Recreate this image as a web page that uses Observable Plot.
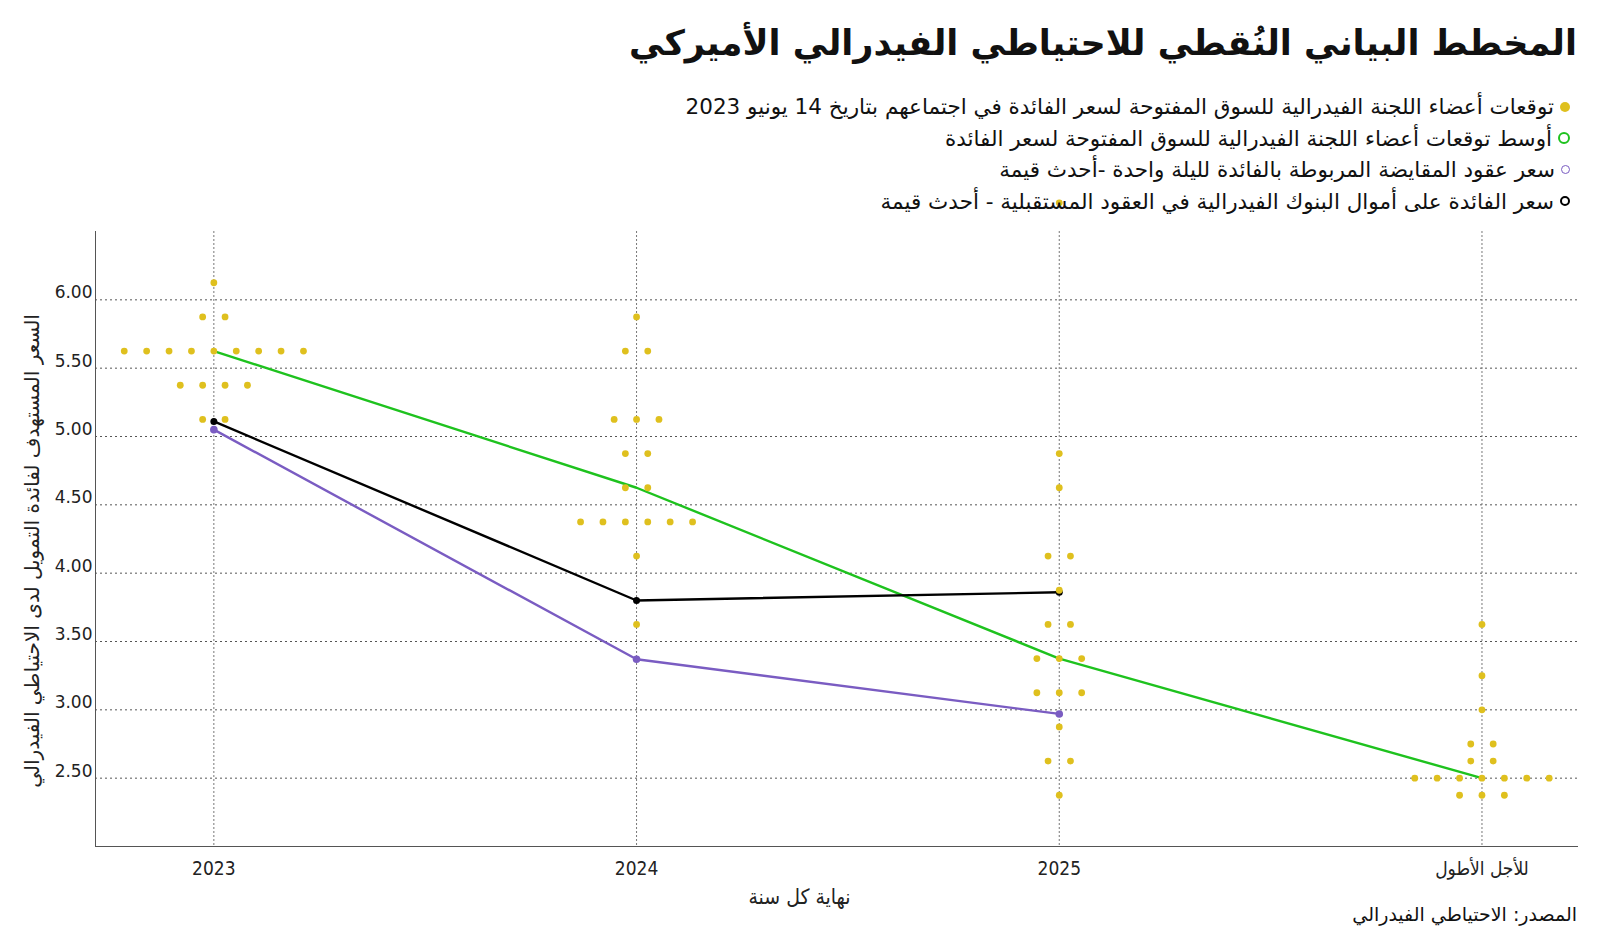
<!DOCTYPE html>
<html><head><meta charset="utf-8">
<script src="https://cdn.jsdelivr.net/npm/d3@7"></script>
<script src="https://cdn.jsdelivr.net/npm/@observablehq/plot@0.6"></script>
<style>
body{margin:0;background:#fff;font-family:"DejaVu Sans",sans-serif;color:#111;}
#wrap{position:relative;width:1600px;height:943px;overflow:hidden;}
#title{position:absolute;right:23px;top:18px;font-size:35px;font-weight:bold;direction:rtl;white-space:nowrap;line-height:50px;}
#legend{position:absolute;right:30px;top:91px;direction:rtl;z-index:2;}
.row{display:flex;align-items:center;height:31.5px;font-size:21.5px;white-space:nowrap;}
.sym{width:10px;height:10px;border-radius:50%;margin-left:6px;box-sizing:border-box;flex:none;}
#chart{position:absolute;left:0;top:220px;z-index:1;}
#source{position:absolute;right:23px;top:901px;font-size:19px;direction:rtl;white-space:nowrap;line-height:26px;}
</style></head>
<body>
<div id="wrap">
  <div id="title">المخطط البياني النُقطي للاحتياطي الفيدرالي الأميركي</div>
  <div id="legend"></div>
  <div id="chart"></div>
  <div id="source">المصدر: الاحتياطي الفيدرالي</div>
</div>
<script>
// ---- data ----
const categories = ["2023", "2024", "2025", "للأجل الأطول"];
const dots2023 = [6.125, 5.875, 5.875, 5.625, 5.625, 5.625, 5.625, 5.625, 5.625, 5.625, 5.625, 5.625, 5.375, 5.375, 5.375, 5.375, 5.125, 5.125];
const dots2024 = [5.875, 5.625, 5.625, 5.125, 5.125, 5.125, 4.875, 4.875, 4.625, 4.625, 4.375, 4.375, 4.375, 4.375, 4.375, 4.375, 4.125, 3.625];
const dots2025 = [6.71, 4.875, 4.625, 4.125, 4.125, 3.875, 3.625, 3.625, 3.375, 3.375, 3.375, 3.125, 3.125, 3.125, 2.875, 2.625, 2.625, 2.375];
const dotsLonger = [3.625, 3.25, 3.0, 2.75, 2.75, 2.625, 2.625, 2.5, 2.5, 2.5, 2.5, 2.5, 2.5, 2.5, 2.375, 2.375, 2.375];
const medianValues = [5.625, 4.625, 3.375, 2.5];
const oisValues = [5.05, 3.37, 2.97];
const futuresValues = [5.11, 3.80, 3.86];
const yTicks = [2.5, 3.0, 3.5, 4.0, 4.5, 5.0, 5.5, 6.0];
const legendLabels = [
  "توقعات أعضاء اللجنة الفيدرالية للسوق المفتوحة لسعر الفائدة في اجتماعهم بتاريخ 14 يونيو 2023",
  "أوسط توقعات أعضاء اللجنة الفيدرالية للسوق المفتوحة لسعر الفائدة",
  "سعر عقود المقايضة المربوطة بالفائدة لليلة واحدة -أحدث قيمة",
  "سعر الفائدة على أموال البنوك الفيدرالية في العقود المستقبلية - أحدث قيمة"
];
const yLabel = "السعر المستهدف لفائدة التمويل لدى الاحتياطي الفيدرالي";
const xLabel = "نهاية كل سنة";

// ---- styles ----
const YELLOW = "#dfc01e", GREEN = "#1ec21e", PURPLE = "#7a5cc2", BLACK = "#000";
const dotStep = 0.053;

// ---- legend ----
const legendStyles = [
  `background:${YELLOW};width:10px;height:10px;`,
  `border:2.5px solid ${GREEN};width:12px;height:12px;`,
  `border:1.5px solid ${PURPLE};width:9px;height:9px;`,
  `border:2px solid ${BLACK};width:10px;height:10px;`
];
const legend = document.getElementById("legend");
legendLabels.forEach((t, i) => {
  const row = document.createElement("div");
  row.className = "row";
  const s = document.createElement("span");
  s.className = "sym"; s.style.cssText = legendStyles[i];
  const l = document.createElement("span"); l.textContent = t;
  row.appendChild(s); row.appendChild(l);
  legend.appendChild(row);
});

// ---- derived tables ----
const dotColumns = [dots2023, dots2024, dots2025, dotsLonger];
const dotData = dotColumns.flatMap((vals, ci) =>
  Array.from(d3.group(vals, v => v)).flatMap(([v, arr]) =>
    arr.map((_, k) => ({cat: ci, value: v, slot: k - (arr.length - 1) / 2}))));
const medianData = medianValues.map((v, i) => ({cat: i, value: v}));
const oisData = oisValues.map((v, i) => ({cat: i, value: v}));
const futuresData = futuresValues.map((v, i) => ({cat: i, value: v}));

const plot = Plot.plot({
  width: 1600, height: 690,
  marginTop: 11, marginBottom: 64, marginLeft: 95, marginRight: 23,
  style: {overflow: "visible", fontFamily: "DejaVu Sans", background: "transparent"},
  x: {type: "linear", domain: [-0.28, 3.226]},
  y: {domain: [2, 6.5]},
  marks: [
    Plot.ruleY(yTicks, {stroke: "#555", strokeDasharray: "2,3", strokeWidth: 1}),
    Plot.ruleX(categories.map((_, i) => i), {stroke: "#777", strokeDasharray: "2,2", strokeWidth: 1}),
    Plot.frame({anchor: "left", stroke: "#555"}),
    Plot.frame({anchor: "bottom", stroke: "#555"}),
    Plot.axisY({ticks: yTicks, tickSize: 0, tickPadding: 3, tickFormat: d3.format(".2f"), fontSize: 17, dy: -7, label: null, fill: "#222"}),
    Plot.axisX({ticks: categories.map((_, i) => i), tickFormat: i => categories[i], tickSize: 0, tickPadding: 15, fontSize: 19, label: null, fontFamily: "DejaVu Sans Condensed", fill: "#222"}),
    Plot.text([yLabel], {frameAnchor: "left", textAnchor: "middle", rotate: -90, dx: -63, dy: 12, fontSize: 20, fill: "#222"}),
    Plot.text([xLabel], {frameAnchor: "bottom", textAnchor: "middle", dy: 57, dx: -37, fontSize: 21, fill: "#222", fontFamily: "DejaVu Sans Condensed"}),
    Plot.line(medianData, {x: "cat", y: "value", stroke: GREEN, strokeWidth: 2.4}),
    Plot.line(futuresData, {x: "cat", y: "value", stroke: BLACK, strokeWidth: 2.4}),
    Plot.dot(futuresData, {x: "cat", y: "value", fill: BLACK, r: 3.5}),
    Plot.line(oisData, {x: "cat", y: "value", stroke: PURPLE, strokeWidth: 2.4}),
    Plot.dot(oisData, {x: "cat", y: "value", fill: PURPLE, r: 3.8}),
    Plot.dot(dotData, {x: d => d.cat + d.slot * dotStep, y: "value", fill: YELLOW, r: 3.4})
  ]
});
document.getElementById("chart").appendChild(plot);
</script>
</body></html>
